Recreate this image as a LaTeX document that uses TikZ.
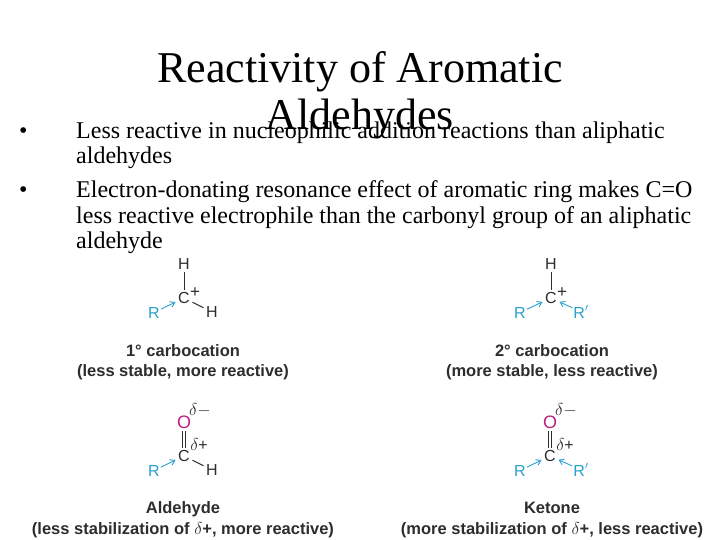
\documentclass[tikz,border=0pt]{standalone}
\usepackage{fontspec}
\setmainfont{Liberation Serif}
\newfontfamily\chemfont{Liberation Sans}
\usetikzlibrary{arrows.meta}
\definecolor{chemblue}{RGB}{42,160,205}
\definecolor{chemmag}{RGB}{190,30,130}
\definecolor{bondgray}{RGB}{45,45,45}
\tikzset{
  x=1pt,y=-1pt,
  titletext/.style={inner sep=0pt,font=\fontsize{44}{50}\selectfont,anchor=base},
  bodytext/.style={inner sep=0pt,anchor=base west,font=\fontsize{24}{27}\selectfont,align=left},
  atom/.style={inner sep=2.5pt,font=\chemfont\fontsize{16}{16}\selectfont,text=bondgray},
  plussign/.style={inner sep=0pt,font=\chemfont\fontsize{17}{17}\selectfont,text=bondgray},
  ratom/.style={atom,inner sep=1pt,anchor=base,text=chemblue},
  oatom/.style={atom,text=chemmag,font=\chemfont\fontsize{18}{18}\selectfont},
  delta/.style={inner sep=0pt,text=bondgray,font=\chemfont\fontsize{16}{16}\selectfont},
  caption/.style={inner sep=0pt,anchor=base,text=bondgray,font=\chemfont\bfseries\fontsize{16.5}{16.5}\selectfont},
  bond/.style={draw=bondgray,line width=0.9pt},
  donate/.style={draw=chemblue,line width=0.9pt,-{Straight Barb[length=4.5pt,width=6pt]}},
}
\newcommand{\dl}{$\delta$}
\begin{document}
\begin{tikzpicture}
\useasboundingbox (0,0) rectangle (720,540);
\fill[white] (0,0) rectangle (720,540);
% title
\node[titletext] (t1) at (360,83) {Reactivity of Aromatic};
\node[titletext] (t2) at (360,130) {Aldehydes};
% bullets
\node[bodytext] (b1) at (19,139) {•};
\node[bodytext] (l1) at (76,139) {Less reactive in nucleophilic addition reactions than aliphatic};
\node[bodytext] (l2) at (76,164) {aldehydes};
\node[bodytext] (b2) at (19,197) {•};
\node[bodytext] (l3) at (76,197) {Electron-donating resonance effect of aromatic ring makes C=O};
\node[bodytext] (l4) at (76,223) {less reactive electrophile than the carbonyl group of an aliphatic};
\node[bodytext] (l5) at (76,248) {aldehyde};
% 1 carbocation
\node[atom] (h1) at (184,264) {H};
\node[atom] (c1) at (184,298) {C};
\node[plussign] (p1) at (195,293) {+};
\node[ratom] (r1) at (154,318) {R};
\node[atom] (h2) at (212,312) {H};
\draw[bond] (h1) -- (c1);
\draw[bond] (c1) -- (h2);
\draw[donate] (r1) -- (c1);
\node[caption] (cap1) at (183,356) {1° carbocation};
\node[caption] (cap1b) at (183,376) {(less stable, more reactive)};
% 2 carbocation
\node[atom] (h3) at (551,264) {H};
\node[atom] (c2) at (551,298) {C};
\node[plussign] (p2) at (562,293) {+};
\node[ratom] (r2) at (520,318) {R};
\node[ratom] (r2p) at (581,318) {R$'$};
\draw[bond] (h3) -- (c2);
\draw[donate] (r2) -- (c2);
\draw[donate] (r2p) -- (c2);
\node[caption] (cap2) at (552,356) {2° carbocation};
\node[caption] (cap2b) at (552,376) {(more stable, less reactive)};
% aldehyde
\node[oatom] (o1) at (184,422) {O};
\node[delta] (d1) at (200,410) {\dl$-$};
\node[atom] (c3) at (184,456) {C};
\node[delta] (d2) at (199,444) {\dl+};
\node[ratom] (r3) at (154,476) {R};
\node[atom] (h4) at (212,470) {H};
\draw[bond] ([xshift=-1.7pt]o1.south) -- ([xshift=-1.7pt]c3.north);
\draw[bond] ([xshift=1.7pt]o1.south) -- ([xshift=1.7pt]c3.north);
\draw[bond] (c3) -- (h4);
\draw[donate] (r3) -- (c3);
\node[caption] (cap3) at (183,513) {Aldehyde};
\node[caption] (cap3b) at (183,534) {(less stabilization of \dl+, more reactive)};
% ketone
\node[oatom] (o2) at (550,422) {O};
\node[delta] (d3) at (566,410) {\dl$-$};
\node[atom] (c4) at (550,456) {C};
\node[delta] (d4) at (565,444) {\dl+};
\node[ratom] (r4) at (520,476) {R};
\node[ratom] (r4p) at (581,476) {R$'$};
\draw[bond] ([xshift=-1.7pt]o2.south) -- ([xshift=-1.7pt]c4.north);
\draw[bond] ([xshift=1.7pt]o2.south) -- ([xshift=1.7pt]c4.north);
\draw[donate] (r4) -- (c4);
\draw[donate] (r4p) -- (c4);
\node[caption] (cap4) at (552,513) {Ketone};
\node[caption] (cap4b) at (552,534) {(more stabilization of \dl+, less reactive)};
\end{tikzpicture}
\end{document}
